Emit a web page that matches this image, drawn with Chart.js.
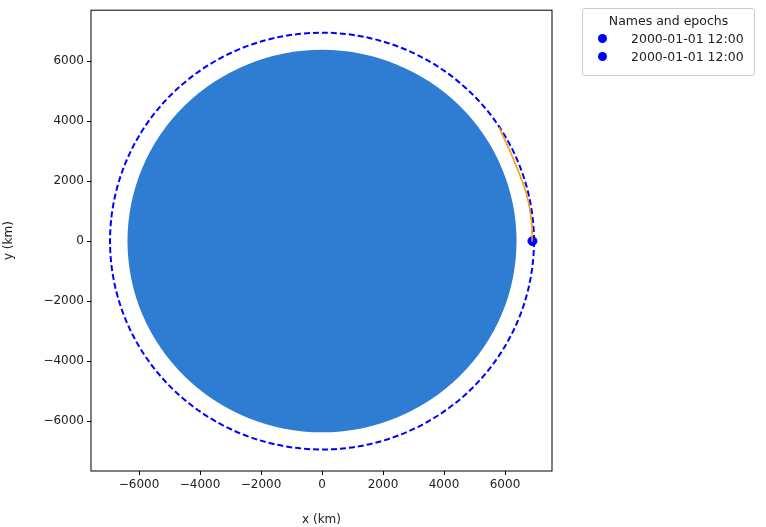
<!DOCTYPE html>
<html><head><meta charset="utf-8">
<script src="https://cdn.jsdelivr.net/npm/chart.js@4"></script>
<style>
body{margin:0;background:#fff;font-family:"DejaVu Sans",sans-serif}
#wrap{position:relative;width:766px;height:527px}
#leg{position:absolute;left:582px;top:8px;width:173px;height:68px;border:1px solid #ccc;border-radius:3px;font-size:12.5px;color:#222;box-sizing:border-box}
#leg .t{text-align:center;margin-top:4px}
#leg .r{display:flex;align-items:center;margin-top:3px;margin-left:15px}
#leg .d{width:9px;height:9px;border-radius:50%;background:#0000ff;margin-right:24px}
</style></head><body>
<div id="wrap"><canvas id="c" width="766" height="527"></canvas>
<div id="leg"><div class="t">Names and epochs</div>
<div class="r"><span class="d"></span>2000-01-01 12:00</div>
<div class="r"><span class="d"></span>2000-01-01 12:00</div></div></div>
<script>
const xTicks=[-6000,-4000,-2000,0,2000,4000,6000];
const yTicks=[-6000,-4000,-2000,0,2000,4000,6000];
const earthRadius=6378;
const orbitRadius=6950;
const trajX=[6900,6890,6860,6800,6720,6600,6450,6250,6030,5800];
const trajY=[0,380,760,1140,1520,1900,2300,2800,3300,3800];
const posX=[6900], posY=[0];
const circles={id:'circ',beforeDatasetsDraw(ch){const c=ch.ctx,x=ch.scales.x,y=ch.scales.y;
 const cx=x.getPixelForValue(0),cy=y.getPixelForValue(0);
 c.save();c.beginPath();c.rect(ch.chartArea.left,ch.chartArea.top,ch.chartArea.width,ch.chartArea.height);c.clip();
 c.fillStyle='#2e7dd3';c.beginPath();
 c.ellipse(cx,cy,x.getPixelForValue(earthRadius)-cx,cy-y.getPixelForValue(earthRadius),0,0,Math.PI*2);c.fill();
 c.strokeStyle='#0000ff';c.lineWidth=2;c.setLineDash([6,3]);c.beginPath();
 c.ellipse(cx,cy,x.getPixelForValue(orbitRadius)-cx,cy-y.getPixelForValue(orbitRadius),0,0,Math.PI*2);c.stroke();
 c.restore();},
 afterDraw(ch){const c=ch.ctx,a=ch.chartArea;c.save();c.strokeStyle='#000';c.lineWidth=1;c.strokeRect(a.left,a.top,a.width,a.height);c.restore();}};
const tk=v=>String(v).replace('-','\u2212');
new Chart(document.getElementById('c'),{type:'scatter',
data:{datasets:[
 {data:trajX.map((v,i)=>({x:v,y:trajY[i]})),showLine:true,borderColor:'#ffa500',borderWidth:1.5,pointRadius:0},
 {data:trajX.map((v,i)=>({x:v,y:trajY[i]})),showLine:true,borderColor:'#0000ff',borderWidth:1,borderDash:[4,3],pointRadius:0},
 {data:posX.map((v,i)=>({x:v,y:posY[i]})),pointRadius:4.5,backgroundColor:'#0000ff',borderColor:'#0000ff'}]},
options:{responsive:false,animation:false,layout:{padding:{right:214,top:10,left:0,bottom:0}},
plugins:{legend:{display:false},tooltip:{enabled:false}},
scales:{
 x:{min:-7574,max:7541,afterBuildTicks:s=>{s.ticks=xTicks.map(v=>({value:v}))},
  afterFit:s=>{s.height=56},
  grid:{drawOnChartArea:false,tickLength:4,color:'#000'},border:{display:false},
  ticks:{color:'#222',font:{size:12,family:'DejaVu Sans'},callback:tk},
  title:{display:true,text:'x (km)',color:'#222',font:{size:12,family:'DejaVu Sans'},padding:0}},
 y:{min:-7667,max:7700,afterBuildTicks:s=>{s.ticks=yTicks.map(v=>({value:v}))},
  afterFit:s=>{s.width=91},
  grid:{drawOnChartArea:false,tickLength:4,color:'#000'},border:{display:false},
  ticks:{color:'#222',font:{size:12,family:'DejaVu Sans'},callback:tk},
  title:{display:true,text:'y (km)',color:'#222',font:{size:12,family:'DejaVu Sans'},padding:2}}}},
plugins:[circles]});
</script></body></html>
